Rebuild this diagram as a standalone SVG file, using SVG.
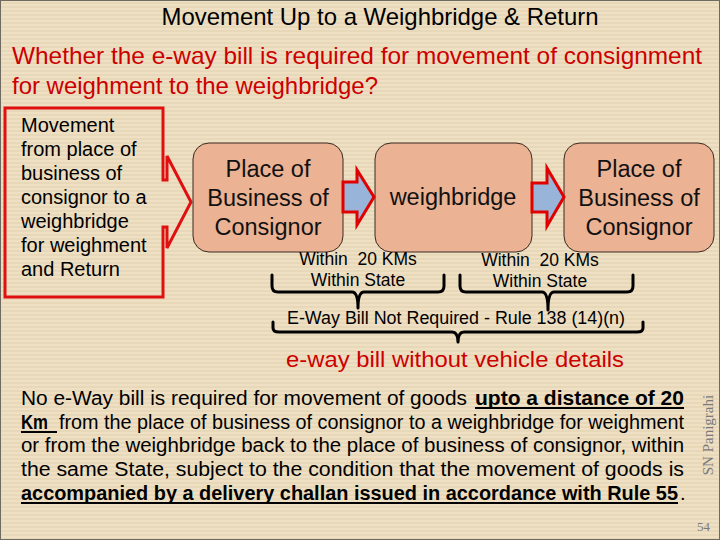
<svg xmlns="http://www.w3.org/2000/svg" width="720" height="540" viewBox="0 0 720 540">
<defs>
<pattern id="stripes" width="8" height="4" patternUnits="userSpaceOnUse">
<rect width="8" height="4" fill="#EFE0C4"/>
<rect y="2" width="8" height="2" fill="#E8D8BA"/>
</pattern>
<style>
text{font-family:"Liberation Sans",Arial,sans-serif;}
.title{font-size:24px;fill:#000;}
.q{font-size:24px;fill:#CC0000;}
.left{font-size:20px;fill:#000;}
.box{fill:#EBB293;stroke:#3a2a20;stroke-width:1;}
.bt{font-size:23.5px;fill:#111;text-anchor:middle;}
.arrow{fill:#98B4D8;stroke:#E00000;stroke-width:3;stroke-linejoin:miter;}
.w{font-size:17.5px;fill:#000;text-anchor:middle;white-space:pre;}
.brace{fill:none;stroke:#000;stroke-width:3;stroke-linecap:round;stroke-linejoin:round;}
.p{font-size:20px;fill:#000;}
.pb{font-size:20px;fill:#000;font-weight:bold;}
.ul{stroke:#000;stroke-width:1.8;}
.serif{font-family:"Liberation Serif","Times New Roman",serif;fill:#7a7a7a;}
</style>
</defs>
<rect width="720" height="540" fill="url(#stripes)"/>
<rect x="0.5" y="0.5" width="719" height="539" fill="none" stroke="#6e6a60" stroke-width="1"/>

<text class="title" x="380" y="25" text-anchor="middle" textLength="437" lengthAdjust="spacingAndGlyphs">Movement Up to a Weighbridge &amp; Return</text>
<text class="q" x="12" y="64" textLength="690" lengthAdjust="spacingAndGlyphs">Whether the e-way bill is required for movement of consignment</text>
<text class="q" x="12" y="94" textLength="366" lengthAdjust="spacingAndGlyphs">for weighment to the weighbridge?</text>

<g id="callout">
<path d="M5,108 H163 V180 H167 V156 L191,202 L167,248 V227 H163 V297 H5 Z" fill="none" stroke="#E01010" stroke-width="3"/>
<text class="left" x="21" y="132">Movement</text>
<text class="left" x="21" y="156">from place of</text>
<text class="left" x="21" y="180">business of</text>
<text class="left" x="21" y="204">consignor to a</text>
<text class="left" x="21" y="228">weighbridge</text>
<text class="left" x="21" y="252">for weighment</text>
<text class="left" x="21" y="276">and Return</text>
</g>

<g id="node-origin">
<rect class="box" x="193" y="143" width="150" height="109" rx="16"/>
<text class="bt" x="268" y="177">Place of</text>
<text class="bt" x="268" y="206">Business of</text>
<text class="bt" x="268" y="235">Consignor</text>
</g>

<g id="node-weighbridge">
<rect class="box" x="375" y="143" width="157" height="109" rx="16"/>
<text class="bt" x="453" y="205">weighbridge</text>
</g>

<g id="node-return">
<rect class="box" x="564" y="143" width="150" height="109" rx="16"/>
<text class="bt" x="639" y="177">Place of</text>
<text class="bt" x="639" y="206">Business of</text>
<text class="bt" x="639" y="235">Consignor</text>
</g>

<g id="connectors">
<path class="arrow" d="M343,182 H357 V170 L374,197 L357,225 V212 H343 Z"/>
<path class="arrow" d="M532,183 H547 V168 L564,197 L547,226 V212 H532 Z"/>
<path class="brace" d="M272,275 V286 Q272,292 278,292 H352 Q358,292 358,308 Q358,292 364,292 H438 Q444,292 444,286 V275"/>
<path class="brace" d="M460,275 V286 Q460,292 466,292 H542 Q548,292 548,310 Q548,292 554,292 H627 Q633,292 633,286 V275"/>
<path class="brace" d="M273,322 V328 Q273,332 279,332 H452 Q458,332 458,342 Q458,332 464,332 H637 Q643,332 643,328 V322"/>
</g>

<g id="labels">
<text class="w" x="358" y="265" xml:space="preserve">Within  20 KMs</text>
<text class="w" x="358" y="286">Within State</text>
<text class="w" x="540" y="266" xml:space="preserve">Within  20 KMs</text>
<text class="w" x="540" y="287">Within State</text>
<text x="456" y="324" font-size="17.5" text-anchor="middle" textLength="338" lengthAdjust="spacingAndGlyphs">E-Way Bill Not Required - Rule 138 (14)(n)</text>
<text x="286" y="367" font-size="22.5" fill="#CC0000" textLength="338" lengthAdjust="spacingAndGlyphs">e-way bill without vehicle details</text>
</g>

<g id="paragraph">
<text class="p" x="21" y="405" textLength="446" lengthAdjust="spacingAndGlyphs">No e-Way bill is required for movement of goods</text>
<text class="pb" x="475" y="405" textLength="209" lengthAdjust="spacingAndGlyphs">upto a distance of 20</text>
<line class="ul" x1="475" y1="408" x2="684" y2="408"/>
<text class="pb" x="21" y="429" textLength="27" lengthAdjust="spacingAndGlyphs">Km</text>
<line class="ul" x1="21" y1="432" x2="57" y2="432"/>
<text class="p" x="59" y="429" textLength="625" lengthAdjust="spacingAndGlyphs">from the place of business of consignor to a weighbridge for weighment</text>
<text class="p" x="21" y="452" textLength="663" lengthAdjust="spacingAndGlyphs">or from the weighbridge back to the place of business of consignor, within</text>
<text class="p" x="21" y="476" textLength="663" lengthAdjust="spacingAndGlyphs">the same State, subject to the condition that the movement of goods is</text>
<text class="pb" x="21" y="500" textLength="657" lengthAdjust="spacingAndGlyphs">accompanied by a delivery challan issued in accordance with Rule 55</text>
<line class="ul" x1="21" y1="503" x2="678" y2="503"/>
<text class="p" x="680" y="500">.</text>
</g>

<text class="serif" x="713" y="435" font-size="15" text-anchor="middle" transform="rotate(-90 713 435)">SN Panigrahi</text>
<text class="serif" x="697" y="531" font-size="13">54</text>
</svg>
